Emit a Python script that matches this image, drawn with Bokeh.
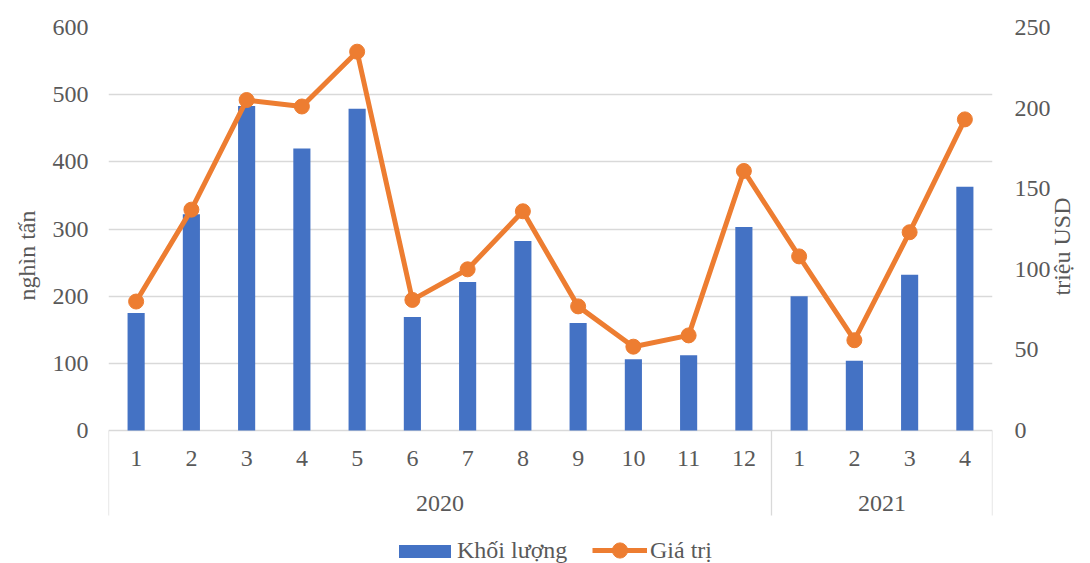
import math
from bokeh.plotting import figure
from bokeh.models import (Range1d, LinearAxis, FixedTicker, Legend, LegendItem,
                          ColumnDataSource, Title)
from bokeh.core.properties import value
from bokeh.embed import file_html
from bokeh.resources import INLINE

# ---- data ----
months = ["1", "2", "3", "4", "5", "6", "7", "8", "9", "10", "11", "12", "1", "2", "3", "4"]
years = ["2020", "2021"]
year_sizes = [12, 4]
khoi_luong = [175, 322, 483, 420, 479, 169, 221, 282, 160, 106, 112, 303, 200, 104, 232, 363]
gia_tri = [80, 137, 205, 201, 235, 81, 100, 136, 77, 52, 59, 161, 108, 56, 123, 193]
left_ticks = [0, 100, 200, 300, 400, 500, 600]
right_ticks = [0, 50, 100, 150, 200, 250]

FONT = "Liberation Serif"
TXT = "#595959"
GRID = "#D9D9D9"
BLUE = "#4472C4"
ORANGE = "#ED7D31"

n = len(months)
xs = list(range(1, n + 1))

W, H = 1090, 563
F_LEFT, F_RIGHT, F_TOP = 108, 993, 27
ZERO_PX = 430
px_per_left = (ZERO_PX - F_TOP) / 600
px_per_right = (ZERO_PX - F_TOP) / 250
below_px = H - ZERO_PX
left_start = -below_px / px_per_left
right_start = -below_px / px_per_right

def y_of(py):
    return (ZERO_PX - py) / px_per_left

p = figure(width=W, height=H, output_backend="svg", toolbar_location=None,
           x_range=Range1d(0.5, n + 0.5), y_range=Range1d(left_start, 600),
           x_axis_location=None, y_axis_location=None,
           min_border_left=F_LEFT, min_border_right=W - F_RIGHT,
           min_border_top=F_TOP, min_border_bottom=0)
p.outline_line_color = None
p.xgrid.visible = False
p.ygrid.ticker = FixedTicker(ticks=left_ticks)
p.ygrid.grid_line_color = GRID
p.ygrid.grid_line_width = 1.3

p.extra_y_ranges = {"usd": Range1d(right_start, 250)}

def style_axis(ax, ticks, standoff_lbl):
    ax.ticker = FixedTicker(ticks=ticks)
    ax.axis_line_color = None
    ax.major_tick_line_color = None
    ax.minor_tick_line_color = None
    ax.major_tick_out = 0
    ax.major_tick_in = 0
    ax.major_label_text_font = FONT
    ax.major_label_text_font_size = "24px"
    ax.major_label_text_color = TXT
    ax.major_label_standoff = standoff_lbl

left_ax = LinearAxis()
style_axis(left_ax, left_ticks, 20)
p.add_layout(left_ax, "left")

# left axis title, placed along the side panel (reads bottom-to-top)
p.add_layout(Title(text="nghìn tấn", align="left", offset=H - 300,
                   text_font=FONT, text_font_size="24px", text_font_style="normal",
                   text_color=TXT, standoff=20), "left")

right_ax = LinearAxis(y_range_name="usd")
style_axis(right_ax, right_ticks, 22)
right_ax.axis_label = "triệu USD"
right_ax.axis_label_orientation = math.pi / 2
right_ax.axis_label_text_font = FONT
right_ax.axis_label_text_font_size = "24px"
right_ax.axis_label_text_font_style = "normal"
right_ax.axis_label_text_color = TXT
right_ax.axis_label_standoff = 8
p.add_layout(right_ax, "right")

src = ColumnDataSource(dict(x=xs, kl=khoi_luong, gt=gia_tri, m=months))
bars = p.vbar(x="x", top="kl", bottom=0, width=0.31, source=src,
              fill_color=BLUE, line_color=None)
line = p.line(x="x", y="gt", source=src, y_range_name="usd",
              line_color=ORANGE, line_width=5)
dots = p.scatter(x="x", y="gt", source=src, y_range_name="usd",
                 size=15, fill_color=ORANGE, line_color=ORANGE)

# category labels (months)
p.text(x="x", y=y_of(458), text="m", source=src, text_font=value(FONT),
       text_font_size="24px", text_color=TXT, text_align="center",
       text_baseline="middle")

# year group labels and separators
bounds = [0.5]
for s in year_sizes:
    bounds.append(bounds[-1] + s)
year_x = [(bounds[i] + bounds[i + 1]) / 2 for i in range(len(years))]
p.text(x=year_x, y=[y_of(503)] * len(years), text=years, text_font=value(FONT),
       text_font_size="24px", text_color=TXT, text_align="center",
       text_baseline="middle")
p.segment(x0=bounds, x1=bounds, y0=[0] * len(bounds), y1=[y_of(515)] * len(bounds),
          line_color=GRID, line_width=1.3)

common = dict(orientation="horizontal", label_text_font=FONT,
              label_text_font_size="24px", label_text_color=TXT,
              padding=0, margin=0, border_line_color=None,
              background_fill_alpha=0, label_text_baseline="middle")
leg1 = Legend(items=[LegendItem(label="Khối lượng", renderers=[bars])],
              location=(392 - F_LEFT, H - 550 - 14),
              glyph_width=65, glyph_height=16, label_standoff=0, **common)
leg2 = Legend(items=[LegendItem(label="Giá trị", renderers=[line, dots])],
              location=(592 - F_LEFT, H - 550 - 19),
              glyph_width=55, glyph_height=38, label_standoff=3, **common)
p.add_layout(leg1)
p.add_layout(leg2)

open("out.html", "w").write(file_html(p, INLINE))
